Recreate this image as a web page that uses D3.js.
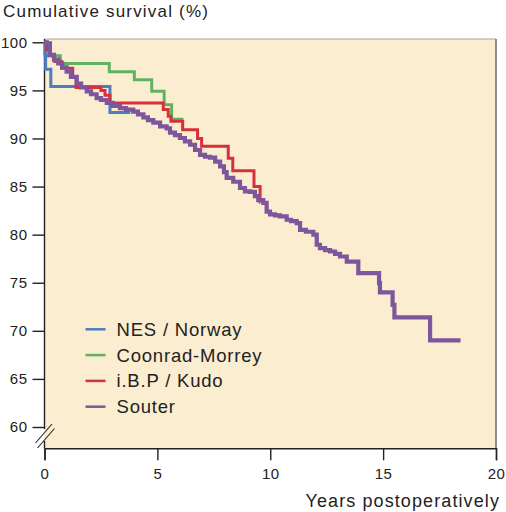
<!DOCTYPE html>
<html><head><meta charset="utf-8">
<script src="https://cdn.jsdelivr.net/npm/d3@7/dist/d3.min.js"></script>
<style>
html,body{margin:0;padding:0;background:#fff;}
svg{display:block;font-family:"Liberation Sans",Arial,sans-serif;}
</style></head>
<body>
<svg id="chart" width="506" height="512"></svg>
<script>
// ---- data ----
const seriesNames = ["NES / Norway", "Coonrad-Morrey", "i.B.P / Kudo", "Souter"];
const xTicks = [0, 5, 10, 15, 20];
const yTicks = [60, 65, 70, 75, 80, 85, 90, 95, 100];

const nesNorway = [[0,100],[0.02,98.8],[0.05,97.2],[0.28,95.4],[2.9,92.7],[3.8,92.7]];
const coonradMorrey = [[0,100],[0.03,98.6],[0.7,97.8],[2.87,96.95],[3.98,96.1],[4.75,94.9],[5.3,93.5],[5.63,92.0],[6.15,92.0]];
const ibpKudo = [[0,100],[0.1,99.2],[0.2,98.6],[0.45,98.0],[0.76,97.3],[1.25,96.4],[1.4,95.3],[2.5,95.0],[2.68,94.5],[2.9,93.7],[5.26,93.0],[5.48,92.3],[5.6,91.8],[6.12,90.9],[6.78,90.0],[6.96,89.2],[8.14,87.95],[8.34,86.65],[9.28,85.0],[9.55,83.4],[9.57,83.4]];
const souter = [[0,100],[0.1,99.9],[0.24,98.7],[0.42,98.2],[0.61,97.8],[0.78,97.4],[0.98,96.95],[1.17,96.4],[1.43,95.7],[1.62,95.3],[1.87,94.9],[2.06,94.6],[2.31,94.2],[2.5,94.0],[2.76,93.7],[3.03,93.4],[3.34,93.15],[3.61,93.0],[3.93,92.8],[4.14,92.5],[4.38,92.2],[4.58,91.9],[4.82,91.65],[5.12,91.25],[5.41,91.05],[5.56,90.6],[5.78,90.35],[6.0,90.05],[6.22,89.7],[6.45,89.35],[6.67,88.8],[6.89,88.3],[7.11,88.1],[7.33,88.0],[7.56,87.6],[7.78,87.1],[7.95,86.5],[8.07,85.9],[8.36,85.5],[8.66,84.85],[8.88,84.5],[9.1,84.45],[9.32,84.0],[9.47,83.6],[9.69,83.3],[9.84,82.4],[9.99,82.1],[10.21,82.0],[10.43,81.9],[10.73,81.55],[10.92,81.4],[11.17,81.2],[11.32,80.5],[11.58,80.3],[11.91,80.0],[12.06,78.95],[12.2,78.6],[12.43,78.4],[12.65,78.25],[12.87,78.0],[13.09,77.73],[13.39,77.2],[13.9,76.0],[14.82,74.95],[14.86,74.0],[15.42,72.7],[15.5,71.4],[17.08,69.0],[18.43,69.0]];

const seriesData = [nesNorway, coonradMorrey, ibpKudo, souter];
const colors = ["#4d7cc0", "#62b062", "#d7303a", "#7d569b"];
const widths = [3, 3, 3, 4.2];
const drawOrder = [1, 0, 2, 3];

// ---- layout ----
const svg = d3.select("#chart");
const pL = 44.5, pR = 496, pT = 39, pB = 448.3;
const x = d3.scaleLinear().domain([0, 20]).range([pL, pR]);
const y = d3.scaleLinear().domain([60, 100]).range([427, 42.3]);

// background
svg.append("rect").attr("x", pL).attr("y", pT).attr("width", pR - pL).attr("height", pB - pT)
  .attr("fill", "#fbedd0");
// top + right border
svg.append("line").attr("x1", pL).attr("x2", pR).attr("y1", pT).attr("y2", pT)
  .attr("stroke", "#a8a39a").attr("stroke-width", 1.2);
svg.append("line").attr("x1", pR).attr("x2", pR).attr("y1", pT).attr("y2", pB)
  .attr("stroke", "#6b6a66").attr("stroke-width", 1.5);

// x axis
const xAxis = d3.axisBottom(x).tickValues(xTicks).tickSize(12).tickPadding(8);
const gx = svg.append("g").attr("transform", `translate(0,${pB})`).call(xAxis);
gx.select(".domain").attr("stroke", "#222").attr("stroke-width", 1.4);
gx.selectAll(".tick line").attr("stroke", "#222").attr("stroke-width", 1.4);
gx.selectAll("text").attr("font-size", 15).attr("fill", "#222").attr("letter-spacing", 0.5)
  .attr("font-family", "'Liberation Sans', Arial, sans-serif");

// y axis
const yAxis = d3.axisLeft(y).tickValues(yTicks).tickSize(12).tickPadding(5);
const gy = svg.append("g").attr("transform", `translate(${pL},0)`).call(yAxis);
gy.select(".domain").remove();
gy.selectAll(".tick line").attr("stroke", "#222").attr("stroke-width", 1.4);
gy.selectAll("text").attr("font-size", 15).attr("fill", "#222").attr("letter-spacing", 0.5)
  .attr("font-family", "'Liberation Sans', Arial, sans-serif");
// y axis line with break
svg.append("line").attr("x1", pL).attr("x2", pL).attr("y1", pT).attr("y2", 429)
  .attr("stroke", "#222").attr("stroke-width", 1.4);
svg.append("line").attr("x1", pL).attr("x2", pL).attr("y1", 441).attr("y2", pB)
  .attr("stroke", "#222").attr("stroke-width", 1.4);
svg.append("line").attr("x1", 35.5).attr("y1", 443).attr("x2", 52).attr("y2", 424)
  .attr("stroke", "#222").attr("stroke-width", 1.1);
svg.append("line").attr("x1", 37.5).attr("y1", 448).attr("x2", 54.5).attr("y2", 428.5)
  .attr("stroke", "#222").attr("stroke-width", 1.1);

// lines
const line = d3.line().x(d => x(d[0])).y(d => y(d[1])).curve(d3.curveStepAfter);
drawOrder.forEach(i => {
  svg.append("path").datum(seriesData[i]).attr("d", line)
    .attr("fill", "none").attr("stroke", colors[i]).attr("stroke-width", widths[i])
    .attr("stroke-linejoin", "miter").attr("stroke-linecap", "butt");
});

// legend
const lg = svg.append("g");
seriesNames.forEach((name, i) => {
  const ly = 329.3 + i * 25.8;
  lg.append("line").attr("x1", 85.5).attr("x2", 105.5).attr("y1", ly).attr("y2", ly)
    .attr("stroke", colors[i]).attr("stroke-width", 2.5);
  lg.append("text").attr("x", 116.5).attr("y", ly + 6.5).text(name)
    .attr("font-size", 18.5).attr("letter-spacing", 0.8).attr("fill", "#222");
});

// titles
svg.append("text").attr("x", 3).attr("y", 17).text("Cumulative survival (%)")
  .attr("font-size", 17).attr("letter-spacing", 1.2).attr("fill", "#222");
svg.append("text").attr("x", 500).attr("y", 507).attr("text-anchor", "end").text("Years postoperatively")
  .attr("font-size", 18).attr("letter-spacing", 1.1).attr("fill", "#222");
</script>
</body></html>
